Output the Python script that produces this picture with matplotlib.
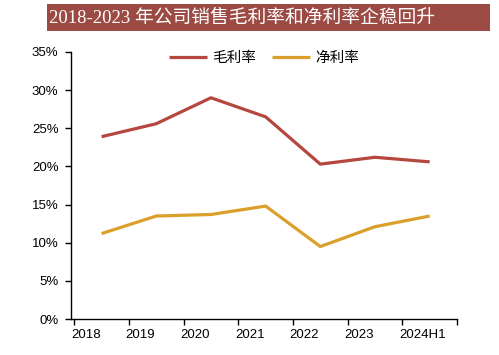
import matplotlib
matplotlib.use("Agg")
import matplotlib.pyplot as plt
import numpy as np
from matplotlib.patches import Rectangle
from matplotlib.ticker import FuncFormatter

plt.rcParams['font.family'] = ['Liberation Sans', 'Noto Sans CJK SC', 'DejaVu Sans']

categories = ["2018", "2019", "2020", "2021", "2022", "2023", "2024H1"]
gross_margin = [23.9, 25.6, 29.0, 26.5, 20.3, 21.2, 20.6]
net_margin = [11.2, 13.5, 13.7, 14.8, 9.5, 12.1, 13.5]
series_names = ["毛利率", "净利率"]
title = "2018-2023 年公司销售毛利率和净利率企稳回升"

W, H = 499, 355
fig = plt.figure(figsize=(W / 100, H / 100), dpi=100)
ax = fig.add_axes([71 / W, (H - 319) / H, (457 - 71) / W, (319 - 52) / H])

x = np.arange(len(categories))
ax.plot(x, gross_margin, color="#B5473F", lw=2.3, label=series_names[0], solid_capstyle="butt")
ax.plot(x, net_margin, color="#DBA02B", lw=2.3, label=series_names[1], solid_capstyle="butt")

ax.set_xlim(-0.5, len(categories) - 0.5)
ax.set_ylim(0, 35)
ax.set_yticks(np.arange(0, 36, 5))
ax.yaxis.set_major_formatter(FuncFormatter(lambda v, p: f"{v:.0f}%"))
ax.tick_params(axis="y", length=4, width=1, pad=5, labelsize=9.5, colors="#000000")

ax.set_xticks(np.arange(-0.5, len(categories), 1))
ax.set_xticklabels([])
ax.tick_params(axis="x", which="major", length=4, width=1)
ax.set_xticks(x - 0.56, minor=True)
ax.set_xticklabels(categories, minor=True, fontsize=9.5)
ax.tick_params(axis="x", which="minor", length=0, pad=7)
for i, lbl in enumerate(ax.get_xticklabels(minor=True)):
    lbl.set_ha("left")

for s in ["top", "right"]:
    ax.spines[s].set_visible(False)
for s in ["left", "bottom"]:
    ax.spines[s].set_linewidth(1)
    ax.spines[s].set_color("#000000")

leg = ax.legend(loc="center", bbox_to_anchor=(0.5, 1 - 6 / 267), ncol=2, frameon=False,
                handlelength=2.6, handletextpad=0.35, columnspacing=1.1,
                prop={"family": ["Noto Sans CJK SC"], "size": 10.5})

fig.patches.append(Rectangle((47 / W, (H - 31) / H), (490 - 47) / W, 27 / H,
                             transform=fig.transFigure, facecolor="#9C4A44",
                             edgecolor="none", zorder=0))
fig.text(49 / W, (H - 18) / H, title, color="white", va="center", ha="left",
         fontsize=13.5, family=["Liberation Serif", "Noto Sans CJK SC"])

fig.savefig("out.png", dpi=100)
